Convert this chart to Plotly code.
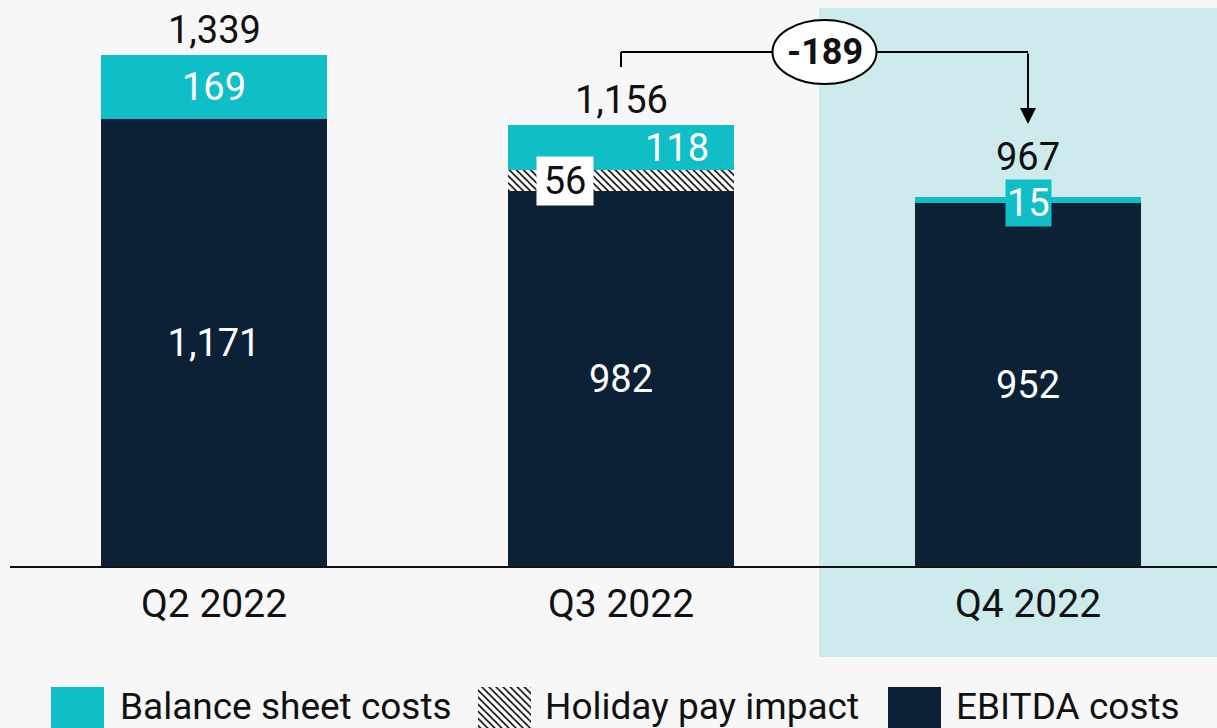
import plotly.graph_objects as go

# ---------------- data ----------------
quarters = ["Q2 2022", "Q3 2022", "Q4 2022"]
ebitda_costs = [1171, 982, 952]
holiday_pay = [None, 56, None]
balance_costs = [169, 118, 15]
totals = [1339, 1156, 967]
change_label = "-189"
legend_names = ["Balance sheet costs", "Holiday pay impact", "EBITDA costs"]

# ---------------- style ----------------
W, H = 1217, 728
NAVY = "#0c2136"
TEAL = "#0fbec6"
HL = "#cdebed"
BG = "#f7f7f7"
FONT = "Roboto"
HATCH = dict(shape="\\", fgcolor="black", bgcolor="white", size=5, solidity=0.32, fillmode="replace")

PX_PER_CAT = 407.0
CAT0_PX = 214.0
BASE_PY = 567.0
PX_PER_UNIT = 0.3824


def ydata(py):
    return (BASE_PY - py) / PX_PER_UNIT


def pxp(px):
    return px / W


def pyp(py):
    return 1 - py / H


xs = list(range(len(quarters)))
BW = 0.555

fig = go.Figure()
fig.add_trace(go.Bar(
    x=xs, y=ebitda_costs, width=BW, marker=dict(color=NAVY, line=dict(width=0)),
    text=[f"{v:,}" for v in ebitda_costs], textposition="inside", insidetextanchor="middle",
    textangle=0, textfont=dict(color="white", size=38, family=FONT), showlegend=False,
    hoverinfo="skip"))
fig.add_trace(go.Bar(
    x=xs, y=holiday_pay, width=BW, marker=dict(color="white", pattern=HATCH, line=dict(width=0)),
    showlegend=False, hoverinfo="skip"))
fig.add_trace(go.Bar(
    x=xs, y=balance_costs, width=BW, marker=dict(color=TEAL, line=dict(width=0)),
    showlegend=False, hoverinfo="skip"))

# hatch legend square on a pixel overlay axis
lx0, lx1, ly0, ly1 = 478, 531, 687, 740
fig.add_trace(go.Scatter(
    x=[lx0, lx1, lx1, lx0, lx0], y=[ly0, ly0, ly1, ly1, ly0], mode="lines",
    fill="toself", fillcolor="white", fillpattern=HATCH, line=dict(width=0),
    xaxis="x2", yaxis="y2", showlegend=False, hoverinfo="skip"))

shapes = []
# highlight of Q4
shapes.append(dict(type="rect", xref="paper", yref="paper", x0=pxp(819), x1=1.0,
                   y0=pyp(657), y1=pyp(8), fillcolor=HL, line=dict(width=0), layer="below"))
# baseline
shapes.append(dict(type="line", xref="paper", yref="y", x0=pxp(10), x1=1.0, y0=0, y1=0,
                   line=dict(color="#111111", width=2)))
# bracket
y_br = ydata(52)
shapes.append(dict(type="line", xref="x", yref="y", x0=1, x1=1, y0=ydata(67), y1=y_br,
                   line=dict(color="black", width=2)))
shapes.append(dict(type="line", xref="x", yref="y", x0=1, x1=2, y0=y_br, y1=y_br,
                   line=dict(color="black", width=2)))
shapes.append(dict(type="circle", xref="x", yref="y", xsizemode="pixel", ysizemode="pixel",
                   xanchor=1.5, yanchor=y_br, x0=-52, x1=52, y0=-32, y1=32,
                   fillcolor="white", line=dict(color="black", width=2)))
# legend solid squares
shapes.append(dict(type="rect", xref="paper", yref="paper", x0=pxp(51), x1=pxp(104),
                   y0=pyp(740), y1=pyp(687), fillcolor=TEAL, line=dict(width=0)))
shapes.append(dict(type="rect", xref="paper", yref="paper", x0=pxp(888), x1=pxp(941),
                   y0=pyp(740), y1=pyp(687), fillcolor=NAVY, line=dict(width=0)))

ann = []
# totals
for i, t in enumerate(totals):
    top = ebitda_costs[i] + (holiday_pay[i] or 0) + balance_costs[i]
    ann.append(dict(x=i, y=top, xref="x", yref="y", text=f"{t:,}", showarrow=False,
                    yanchor="bottom", yshift=1 if i < 2 else 16,
                    font=dict(size=38, color="#111111", family=FONT)))
# balance sheet labels
for i, v in enumerate(balance_costs):
    mid = ebitda_costs[i] + (holiday_pay[i] or 0) + v / 2
    a = dict(x=i, y=mid, xref="x", yref="y", text=f"{v:,}", showarrow=False,
             font=dict(size=38, color="white", family=FONT))
    if i == 1:
        a["xshift"] = 56
    if i == 2:
        a["bgcolor"] = TEAL
        a["borderpad"] = 1
        a["yshift"] = -3
    ann.append(a)
# holiday label
for i, v in enumerate(holiday_pay):
    if v:
        ann.append(dict(x=i, y=ebitda_costs[i] + v / 2, xref="x", yref="y", text=f"{v:,}",
                        showarrow=False, xshift=-56, bgcolor="white", borderpad=2, width=52,
                        font=dict(size=38, color="#111111", family=FONT)))
# category labels
for i, q in enumerate(quarters):
    ann.append(dict(x=i, y=pyp(603.5), xref="x", yref="paper", text=q, showarrow=False,
                    yanchor="middle", font=dict(size=39, color="#111111", family=FONT)))
# change label and arrow
ann.append(dict(x=1.5, y=y_br, xref="x", yref="y", text=f"<b>{change_label}</b>", showarrow=False,
                font=dict(size=36, color="#111111", family=FONT)))
ann.append(dict(x=2, y=ydata(124), xref="x", yref="y", ax=2, ay=y_br, axref="x", ayref="y",
                text="", showarrow=True, arrowhead=2, arrowsize=1.6, arrowwidth=2,
                arrowcolor="black"))
# legend texts
for px, name in zip([118, 543, 954], legend_names):
    ann.append(dict(x=pxp(px), y=pyp(706), xref="paper", yref="paper", text=name,
                    showarrow=False, xanchor="left", yanchor="middle",
                    font=dict(size=37, color="#111111", family=FONT)))

fig.update_layout(
    width=W, height=H, margin=dict(l=0, r=0, t=0, b=0),
    paper_bgcolor=BG, plot_bgcolor="rgba(0,0,0,0)",
    barmode="stack", bargap=0,
    xaxis=dict(range=[(0 - CAT0_PX) / PX_PER_CAT, (W - CAT0_PX) / PX_PER_CAT], visible=False,
               fixedrange=True),
    yaxis=dict(range=[ydata(H), ydata(0)], visible=False, fixedrange=True),
    xaxis2=dict(range=[0, W], overlaying="x", anchor="y2", visible=False),
    yaxis2=dict(range=[H, 0], overlaying="y", anchor="x2", visible=False),
    shapes=shapes, annotations=ann,
    font=dict(family=FONT), showlegend=False,
)

fig.write_html(
    "out.html",
    config={"displayModeBar": False},
    post_script="document.body.style.margin='0';document.body.style.overflow='hidden';"
                "document.body.style.background='" + BG + "';",
)
